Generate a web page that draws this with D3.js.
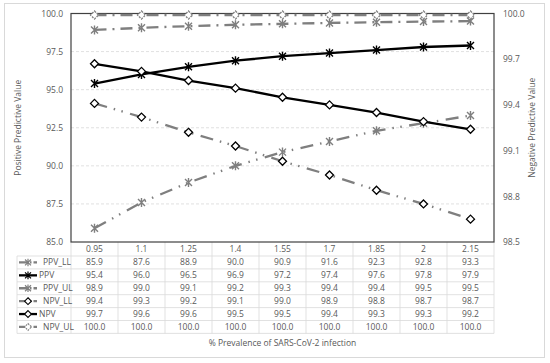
<!DOCTYPE html>
<html>
<head>
<meta charset="utf-8">
<script src="https://cdn.jsdelivr.net/npm/d3@7"></script>
<style>
  body { margin: 0; background: #fff; }
  svg { display: block; font-family: "Open Sans", "Noto Sans", sans-serif; }
</style>
</head>
<body>
<svg id="chart" width="550" height="363"></svg>
<script>
// categories (% prevalence)
const categories = ["0.95", "1.1", "1.25", "1.4", "1.55", "1.7", "1.85", "2", "2.15"];

// plotted values
const ppvLL = [85.9, 87.6, 88.9, 90.0, 90.9, 91.6, 92.3, 92.8, 93.3];
const ppv   = [95.4, 96.0, 96.5, 96.9, 97.2, 97.4, 97.6, 97.8, 97.9];
const ppvUL = [98.92, 99.06, 99.17, 99.26, 99.32, 99.38, 99.43, 99.47, 99.5];
const npvLL = [99.41, 99.32, 99.22, 99.13, 99.03, 98.94, 98.84, 98.75, 98.65];
const npv   = [99.67, 99.62, 99.56, 99.51, 99.45, 99.40, 99.35, 99.29, 99.24];
const npvUL = [99.99, 99.99, 99.99, 99.99, 99.99, 99.99, 99.99, 99.99, 99.99];

// data table text
const ppvLLText = ["85.9", "87.6", "88.9", "90.0", "90.9", "91.6", "92.3", "92.8", "93.3"];
const ppvText   = ["95.4", "96.0", "96.5", "96.9", "97.2", "97.4", "97.6", "97.8", "97.9"];
const ppvULText = ["98.9", "99.0", "99.1", "99.2", "99.3", "99.4", "99.4", "99.5", "99.5"];
const npvLLText = ["99.4", "99.3", "99.2", "99.1", "99.0", "98.9", "98.8", "98.7", "98.7"];
const npvText   = ["99.7", "99.6", "99.6", "99.5", "99.5", "99.4", "99.3", "99.3", "99.2"];
const npvULText = ["100.0", "100.0", "100.0", "100.0", "100.0", "100.0", "100.0", "100.0", "100.0"];

const leftTicks = [85, 87.5, 90, 92.5, 95, 97.5, 100];
const rightTicks = [98.5, 98.8, 99.1, 99.4, 99.7, 100];

const gray = "#7f7f7f";
const txt = "#595959";
const LL_DASH = "13,7,1.5,6.5,1.5,7.5";
const UL_DASH = "12,6,2,6";

const series = [
  { name: "PPV_LL", values: ppvLL, labels: ppvLLText, axis: "L", color: gray, dash: LL_DASH, marker: "star", mstroke: gray, mfill: "none" },
  { name: "PPV", values: ppv, labels: ppvText, axis: "L", color: "#000", dash: null, marker: "star", mstroke: "#000", mfill: "none" },
  { name: "PPV_UL", values: ppvUL, labels: ppvULText, axis: "L", color: gray, dash: UL_DASH, marker: "star", mstroke: gray, mfill: "none" },
  { name: "NPV_LL", values: npvLL, labels: npvLLText, axis: "R", color: gray, dash: LL_DASH, marker: "diamond", mstroke: "#000", mfill: "#fff" },
  { name: "NPV", values: npv, labels: npvText, axis: "R", color: "#000", dash: null, marker: "diamond", mstroke: "#000", mfill: "#fff" },
  { name: "NPV_UL", values: npvUL, labels: npvULText, axis: "R", color: gray, dash: UL_DASH, marker: "diamond", mstroke: gray, mfill: "#fff", mdash: "2,1.2" }
];

function main() {
  const svg = d3.select("#chart");

  const left = 71, right = 494, top = 13.5, bottom = 242;
  const tableLeft = 17, headerH = 14, rowH = 12.9;

  const x = d3.scaleBand().domain(categories).range([left, right]);
  const cx = d => x(d) + x.bandwidth() / 2;
  const yL = d3.scaleLinear().domain([85, 100]).range([bottom, top]);
  const yR = d3.scaleLinear().domain([98.5, 100]).range([bottom, top]);

  // outer chart border
  svg.append("rect")
    .attr("x", 4.5).attr("y", 3.5)
    .attr("width", 540).attr("height", 354)
    .attr("fill", "#fff")
    .attr("stroke", "#d9d9d9");

  // gridlines
  svg.append("g")
    .selectAll("line")
    .data(leftTicks.slice(1, -1))
    .join("line")
      .attr("x1", left).attr("x2", right)
      .attr("y1", d => yL(d)).attr("y2", d => yL(d))
      .attr("stroke", "#d9d9d9")
      .attr("stroke-dasharray", "3,2")
      .attr("stroke-width", 0.8);

  // axes
  const gL = svg.append("g")
    .attr("transform", `translate(${left},0)`)
    .call(d3.axisLeft(yL).tickValues(leftTicks).tickFormat(d3.format(".1f")).tickSize(0).tickPadding(8));
  const gR = svg.append("g")
    .attr("transform", `translate(${right},0)`)
    .call(d3.axisRight(yR).tickValues(rightTicks).tickFormat(d3.format(".1f")).tickSize(0).tickPadding(9));
  [gL, gR].forEach(g => {
    g.select(".domain").remove();
    g.selectAll("text").attr("fill", txt).attr("font-size", 8.5)
      .attr("font-family", "\"Open Sans\", \"Noto Sans\", sans-serif");
  });

  // data table grid
  const tableBottom = bottom + headerH + rowH * series.length;
  const grid = svg.append("g").attr("stroke", "#d9d9d9").attr("stroke-width", 0.8);
  // vertical lines between categories
  grid.selectAll("line.v")
    .data(categories.slice(1))
    .join("line")
      .attr("class", "v")
      .attr("x1", d => x(d)).attr("x2", d => x(d))
      .attr("y1", bottom).attr("y2", tableBottom);
  grid.append("line").attr("x1", left).attr("x2", left).attr("y1", bottom).attr("y2", tableBottom);
  grid.append("line").attr("x1", right).attr("x2", right).attr("y1", bottom).attr("y2", tableBottom);
  grid.append("line").attr("x1", tableLeft).attr("x2", tableLeft).attr("y1", bottom + headerH).attr("y2", tableBottom);
  // horizontal lines
  grid.selectAll("line.h")
    .data(d3.range(series.length + 1))
    .join("line")
      .attr("class", "h")
      .attr("x1", tableLeft).attr("x2", right)
      .attr("y1", i => bottom + headerH + i * rowH)
      .attr("y2", i => bottom + headerH + i * rowH);

  // category labels (header row)
  svg.append("g")
    .selectAll("text")
    .data(categories)
    .join("text")
      .attr("x", cx)
      .attr("y", bottom + headerH / 2)
      .attr("dy", "0.35em")
      .attr("text-anchor", "middle")
      .attr("font-size", 8.5)
      .attr("fill", txt)
      .text(d => d);

  // plot area border
  svg.append("rect")
    .attr("x", left).attr("y", top)
    .attr("width", right - left).attr("height", bottom - top)
    .attr("fill", "none")
    .attr("stroke", "#404040")
    .attr("stroke-width", 1.2);

  const starPath = "M-3.5,-3.5L3.5,3.5M-3.5,3.5L3.5,-3.5M0,-4.5L0,4.5";
  const diamondPath = "M0,-4L4,0L0,4L-4,0Z";

  function drawMarker(g, s) {
    const p = g.append("path")
      .attr("d", s.marker === "star" ? starPath : diamondPath)
      .attr("fill", s.mfill)
      .attr("stroke", s.mstroke)
      .attr("stroke-width", s.marker === "star" ? 1.4 : 1.3);
    if (s.mdash) p.attr("stroke-dasharray", s.mdash);
    return p;
  }

  // series lines and markers
  series.forEach(s => {
    const y = s.axis === "L" ? yL : yR;
    const line = d3.line()
      .x((d, i) => cx(categories[i]))
      .y(d => y(d));
    const path = svg.append("path")
      .datum(s.values)
      .attr("d", line)
      .attr("fill", "none")
      .attr("stroke", s.color)
      .attr("stroke-width", 2.3);
    if (s.dash) path.attr("stroke-dasharray", s.dash);

    const mg = svg.append("g");
    s.values.forEach((v, i) => {
      const g = mg.append("g").attr("transform", `translate(${cx(categories[i])},${y(v)})`);
      drawMarker(g, s);
    });
  });

  // table rows: legend key + values
  series.forEach((s, r) => {
    const yc = bottom + headerH + r * rowH + rowH / 2;
    const key = svg.append("line")
      .attr("x1", 19).attr("x2", 37)
      .attr("y1", yc).attr("y2", yc)
      .attr("stroke", s.color)
      .attr("stroke-width", 2.3);
    if (s.dash) key.attr("stroke-dasharray", "9,2,1.5,2");
    const kg = svg.append("g").attr("transform", `translate(28,${yc})`);
    drawMarker(kg, s).attr("transform", "scale(0.85)");
    svg.append("text")
      .attr("x", s.dash ? 43 : 39)
      .attr("y", yc)
      .attr("dy", "0.35em")
      .attr("font-size", 8.5)
      .attr("fill", txt)
      .text(s.name);
    svg.append("g")
      .selectAll("text")
      .data(s.labels)
      .join("text")
        .attr("x", (d, i) => cx(categories[i]))
        .attr("y", yc)
        .attr("dy", "0.35em")
        .attr("text-anchor", "middle")
        .attr("font-size", 8.5)
        .attr("fill", txt)
        .text(d => d);
  });

  // axis titles
  svg.append("text")
    .attr("x", (left + right) / 2)
    .attr("y", 346)
    .attr("text-anchor", "middle")
    .attr("font-size", 8.5)
    .attr("fill", txt)
    .text("% Prevalence of SARS-CoV-2 infection");

  svg.append("text")
    .attr("transform", `translate(21,${(top + bottom) / 2}) rotate(-90)`)
    .attr("text-anchor", "middle")
    .attr("font-size", 8.5)
    .attr("fill", txt)
    .text("Positive Predictive Value");

  svg.append("text")
    .attr("transform", `translate(535,${(top + bottom) / 2}) rotate(-90)`)
    .attr("text-anchor", "middle")
    .attr("font-size", 8.5)
    .attr("fill", txt)
    .text("Negative Predictive Value");
}

main();
</script>
</body>
</html>
